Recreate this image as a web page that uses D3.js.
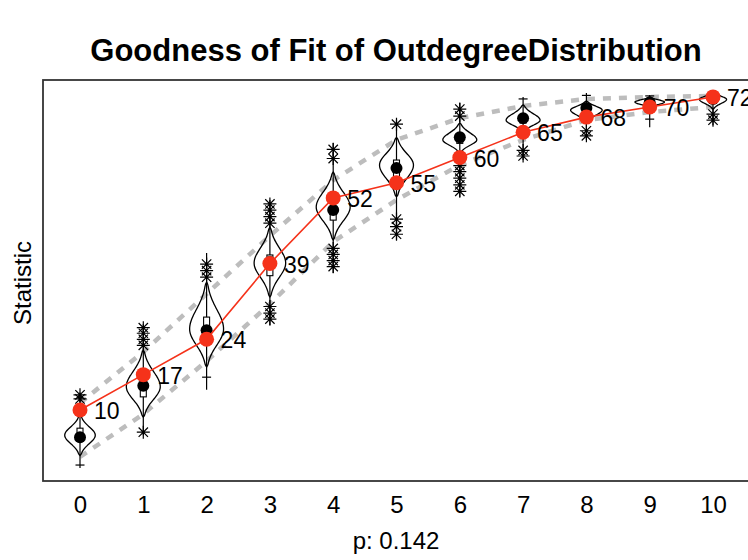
<!DOCTYPE html>
<html><head><meta charset="utf-8">
<script src="https://cdn.jsdelivr.net/npm/d3@7/dist/d3.min.js"></script>
<style>body{margin:0;background:#fff;overflow:hidden}</style>
</head><body>
<svg id="c" width="748" height="560"></svg>
<script>
// ---------- data ----------
const categories = [0,1,2,3,4,5,6,7,8,9,10];
const tickLabels = ["0","1","2","3","4","5","6","7","8","9","10"];
const observed   = [10,17,24,39,52,55,60,65,68,70,72];
const simMean    = [4.6,14.8,25.8,39.3,49.6,57.9,64.0,67.8,69.8,70.9,71.6];
const boxQ1      = [5.4,12.6,26.2,36.6,47.6,56.1,62.8,66.8,69.0,70.4,71.2];
const boxQ3      = [6.4,14.0,28.4,40.7,49.2,59.5,64.5,68.4,70.4,71.4,72.0];
const violinLo   = [1.0,8.6,18.5,32.4,43.7,52.2,60.9,65.0,67.0,69.8,69.6];
const violinHi   = [9.0,21.8,35.3,46.2,57.1,64.0,66.8,70.4,71.2,72.0,73.0];
const violinMode = [5.0,14.6,26.0,39.1,50.2,58.5,63.5,67.4,69.4,71.0,71.5];
const violinDens = [0.9,1.0,1.0,0.93,1.0,1.0,1.0,1.0,0.93,0.87,0.8];
const lineLo     = [-1.5,5.0,14.0,26.8,37.1,43.7,52.2,59.5,63.5,66.0,66.4];
const lineHi     = [12.8,27.0,41.1,51.6,62.9,67.5,70.8,72.0,72.8,72.4,72.8];
const outliers   = [
  [12.2,13.0],
  [5.6,22.8,24.0,25.2,26.3],
  [36.3,37.6,38.9],
  [28.0,29.2,30.5,47.0,48.3,49.6,50.8],
  [38.4,39.6,40.8,42.0,59.8,61.6],
  [44.8,46.3,47.8,66.6],
  [53.3,54.6,55.9,57.2,58.4,68.2,69.6],
  [60.3,61.4],
  [64.3,65.3],
  [],
  [67.4,68.6]
];
const staples    = [[-0.9],[],[16.5],[],[],[],[],[71.6],[72.3],[72.2,67.6],[]];
const bandUpper  = [11.4,21.5,33.0,44.5,55.5,63.5,67.8,70.2,71.6,72.0,72.2];
const bandLower  = [0.7,9.2,19.7,31.0,43.3,51.6,58.5,63.5,67.4,69.0,70.0];
const titleText  = "Goodness of Fit of OutdegreeDistribution";
const yLabel     = "Statistic";
const xLabel     = "p: 0.142";

// ---------- layout ----------
const svg = d3.select("#c");
const plot = {left:43, top:80, right:762, bottom:481};
const x = d3.scaleLinear().domain([0,10]).range([80,713]);
const y = d3.scaleLinear().domain([-4.06,75.35]).range([481,80]);
const wScale = d3.scaleLinear().domain([0,1]).range([0,17]);
const font = "'Liberation Sans', Arial, Helvetica, sans-serif";

// title
svg.append("text").attr("x",396).attr("y",61).attr("text-anchor","middle")
  .attr("font-family",font).attr("font-weight","bold").attr("font-size",31)
  .attr("fill","#000").text(titleText);

// gray bands
const bandLine = d3.line().x((d,i)=>x(categories[i])).y(d=>y(d));
[bandUpper, bandLower].forEach(b=>{
  svg.append("path").attr("d",bandLine(b)).attr("fill","none")
    .attr("stroke","#bdbdbd").attr("stroke-width",4.5)
    .attr("stroke-dasharray","8,8").attr("stroke-linecap","butt");
});

// violins, whiskers, boxes
const g = svg.append("g");
categories.forEach((c,i)=>{
  const cx = x(c);
  g.append("line").attr("x1",cx).attr("x2",cx)
    .attr("y1",y(lineLo[i])).attr("y2",y(lineHi[i]))
    .attr("stroke","#000").attr("stroke-width",1.2);
  const lo = violinLo[i], hi = violinHi[i], m = violinMode[i];
  const sLo = (m-lo)/2.4, sHi = (hi-m)/2.4;
  const W = wScale(violinDens[i]);
  const pts = d3.range(0,41).map(k=>{
    const v = lo + (hi-lo)*k/40;
    const s = v < m ? sLo : sHi;
    const w = W*Math.exp(-0.5*Math.pow((v-m)/s,2));
    return {v, w:(k===0||k===40)?0:w};
  });
  const area = d3.area().curve(d3.curveBasis)
    .y(d=>y(d.v)).x0(d=>cx-d.w).x1(d=>cx+d.w);
  g.append("path").attr("d",area(pts)).attr("fill","none")
    .attr("stroke","#000").attr("stroke-width",1.3);
  g.append("rect").attr("x",cx-3).attr("width",6)
    .attr("y",y(boxQ3[i])).attr("height",Math.max(2,y(boxQ1[i])-y(boxQ3[i])))
    .attr("fill","#fff").attr("stroke","#000").attr("stroke-width",1.1);
  staples[i].forEach(v=>{
    g.append("line").attr("x1",cx-4.5).attr("x2",cx+4.5).attr("y1",y(v)).attr("y2",y(v))
      .attr("stroke","#000").attr("stroke-width",1.2);
  });
  outliers[i].forEach(v=>{
    const cy = y(v), r = 6.5, d = r*0.72;
    const p = `M${cx-r},${cy}L${cx+r},${cy}M${cx},${cy-r}L${cx},${cy+r}`+
              `M${cx-d},${cy-d}L${cx+d},${cy+d}M${cx-d},${cy+d}L${cx+d},${cy-d}`;
    g.append("path").attr("d",p).attr("stroke","#000").attr("stroke-width",1.2).attr("fill","none");
  });
  g.append("circle").attr("cx",cx).attr("cy",y(simMean[i])).attr("r",6).attr("fill","#000");
});

// observed line & points
const obsLine = d3.line().x((d,i)=>x(categories[i])).y(d=>y(d));
svg.append("path").attr("d",obsLine(observed)).attr("fill","none")
  .attr("stroke","#f5321a").attr("stroke-width",1.6);
svg.selectAll(".obs").data(observed).enter().append("circle")
  .attr("cx",(d,i)=>x(categories[i])).attr("cy",d=>y(d)).attr("r",7.5)
  .attr("fill","#f5321a");
svg.selectAll(".obsl").data(observed).enter().append("text")
  .attr("x",(d,i)=>x(categories[i])+14).attr("y",d=>y(d)+9)
  .attr("font-family",font).attr("font-size",23).attr("fill","#000")
  .text(d=>d);

// frame
svg.append("rect").attr("x",plot.left).attr("y",plot.top)
  .attr("width",plot.right-plot.left).attr("height",plot.bottom-plot.top)
  .attr("fill","none").attr("stroke","#333").attr("stroke-width",1.8);

// x tick labels
const xAxis = d3.axisBottom(x).tickValues(categories).tickFormat((d,i)=>tickLabels[i]).tickSize(0).tickPadding(15);
const ax = svg.append("g").attr("transform",`translate(0,${plot.bottom})`).call(xAxis);
ax.select(".domain").remove();
ax.selectAll("text").attr("font-family",font).attr("font-size",24).attr("fill","#000");

// axis labels
svg.append("text").attr("x",396).attr("y",549).attr("text-anchor","middle")
  .attr("font-family",font).attr("font-size",24).attr("fill","#000").text(xLabel);
svg.append("text").attr("transform","translate(31,283) rotate(-90)").attr("text-anchor","middle")
  .attr("font-family",font).attr("font-size",24).attr("fill","#000").text(yLabel);
</script>
</body></html>
